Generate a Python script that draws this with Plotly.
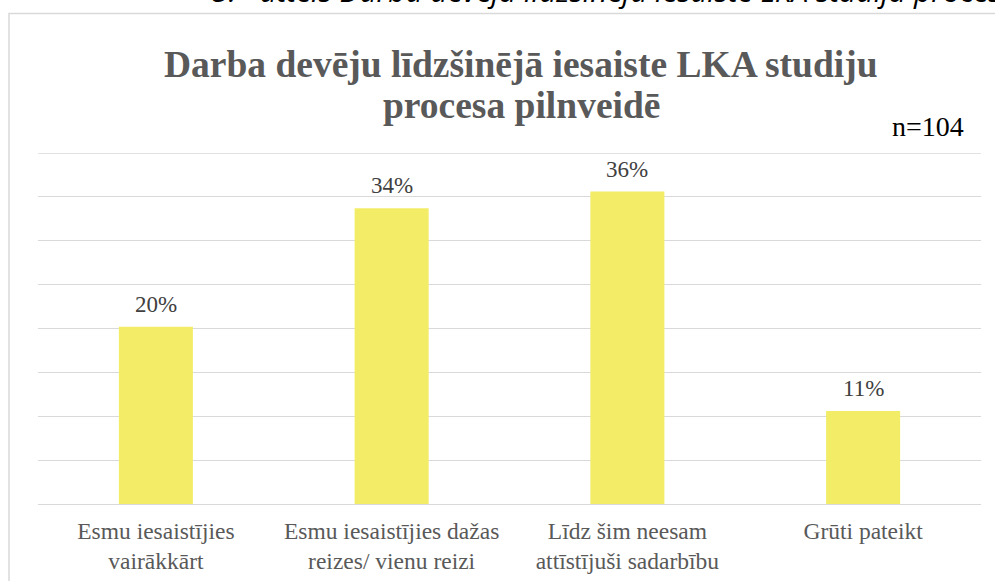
import plotly.graph_objects as go

categories = ["Esmu iesaistījies<br>vairākkārt",
              "Esmu iesaistījies dažas<br>reizes/ vienu reizi",
              "Līdz šim neesam<br>attīstījuši sadarbību",
              "Grūti pateikt"]
values = [0.202, 0.337, 0.356, 0.106]
value_labels = ["20%", "34%", "36%", "11%"]
title_line1 = "Darba devēju līdzšinējā iesaiste LKA studiju"
title_line2 = "procesa pilnveidē"
caption = "5.   attēls Darba devēju līdzšinējā iesaiste LKA studiju procesā pilnveidē"
n_label = "n=104"

W, H = 995, 581
L, R, T, B = 38, 14, 153, 77
PW, PH = W - L - R, H - T - B

def px(x):
    return (x - L) / PW

def py(y):
    return (H - B - y) / PH

SERIF = "Liberation Serif, Times New Roman, serif"

fig = go.Figure(go.Bar(
    x=categories, y=values,
    marker=dict(color="#F2EC66", line=dict(width=0)),
    cliponaxis=False, width=0.314,
))

label_annotations = [
    dict(text=t, x=c, y=v, xref="x", yref="y", xanchor="center", yanchor="bottom",
         yshift=8, showarrow=False,
         font=dict(family=SERIF, size=23, color="#404040"))
    for c, v, t in zip(categories, values, value_labels)
]

fig.update_layout(
    width=W, height=H,
    margin=dict(l=L, r=R, t=T, b=B, autoexpand=False),
    plot_bgcolor="white", paper_bgcolor="white",
    showlegend=False,
    xaxis=dict(showgrid=False, showline=False, ticks="", ticklabelstandoff=10,
               automargin=False,
               tickfont=dict(family=SERIF, size=23.5, color="#595959")),
    yaxis=dict(range=[0, 0.4], dtick=0.05, showticklabels=False, automargin=False,
               showgrid=True, gridcolor="#D9D9D9", gridwidth=1.3,
               zeroline=True, zerolinecolor="#D9D9D9", zerolinewidth=1.3,
               showline=False),
    shapes=[dict(type="rect", xref="paper", yref="paper",
                 x0=px(9), x1=px(1100), y0=py(700), y1=py(13.5),
                 line=dict(color="#D9D9D9", width=1.5), layer="below"),
            dict(type="line", xref="paper", yref="y", x0=0, x1=1, y0=0.4, y1=0.4,
                 line=dict(color="#D9D9D9", width=1.3), layer="below")],
    annotations=label_annotations + [
        dict(text=f"<b>{title_line1}</b>", x=px(521), y=py(65), xref="paper", yref="paper",
             xanchor="center", yanchor="middle", showarrow=False,
             font=dict(family=SERIF, size=37.5, color="#595959")),
        dict(text=f"<b>{title_line2}</b>", x=px(521), y=py(105), xref="paper", yref="paper",
             xanchor="center", yanchor="middle", showarrow=False,
             font=dict(family=SERIF, size=37.5, color="#595959")),
        dict(text=n_label, x=px(966), y=py(127), xref="paper", yref="paper",
             xanchor="right", yanchor="middle", showarrow=False,
             font=dict(family=SERIF, size=28, color="#000000")),
        dict(text=f"<i>{caption}</i>", x=px(210), y=py(-10), xref="paper", yref="paper",
             xanchor="left", yanchor="middle", showarrow=False,
             font=dict(family="Open Sans, sans-serif", size=30, color="#000000")),
    ],
)

fig.write_html("out.html")
